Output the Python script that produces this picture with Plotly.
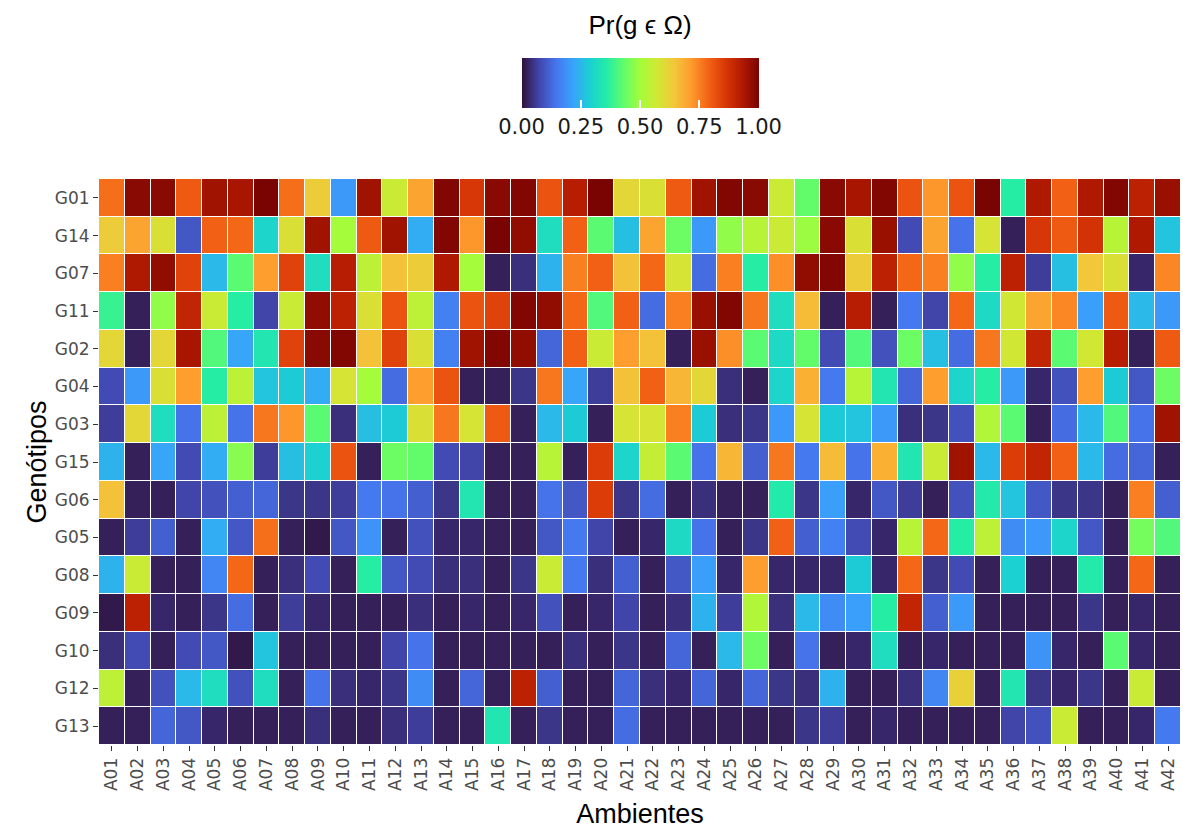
import plotly.graph_objects as go

genotypes = ["G01", "G14", "G07", "G11", "G02", "G04", "G03", "G15",
             "G06", "G05", "G08", "G09", "G10", "G12", "G13"]
environments = [f"A{i:02d}" for i in range(1, 43)]

g01 = [0.77, 0.98, 0.98, 0.80, 0.95, 0.94, 1.00, 0.77, 0.63, 0.20, 0.95,
       0.56, 0.70, 0.99, 0.86, 0.98, 0.99, 0.81, 0.92, 1.00, 0.61,
       0.59, 0.80, 0.95, 0.99, 0.98, 0.56, 0.43, 0.98, 0.94, 0.99, 0.81,
       0.72, 0.81, 1.00, 0.36, 0.93, 0.79, 0.93, 0.99, 0.91, 0.96]
g14 = [0.63, 0.70, 0.59, 0.10, 0.79, 0.78, 0.30, 0.59, 0.95, 0.50, 0.80,
       0.95, 0.23, 0.99, 0.72, 1.00, 0.97, 0.32, 0.79, 0.42, 0.26,
       0.70, 0.44, 0.20, 0.48, 0.53, 0.56, 0.49, 0.98, 0.59, 0.96, 0.08,
       0.70, 0.14, 0.58, 0.02, 0.86, 0.80, 0.87, 0.53, 0.93, 0.27]
g07 = [0.75, 0.93, 0.97, 0.84, 0.25, 0.42, 0.71, 0.84, 0.32, 0.92, 0.54,
       0.65, 0.63, 0.93, 0.50, 0.02, 0.04, 0.24, 0.75, 0.79, 0.65,
       0.78, 0.58, 0.13, 0.75, 0.36, 0.73, 0.97, 0.99, 0.63, 0.91, 0.78,
       0.75, 0.48, 0.36, 0.91, 0.06, 0.26, 0.64, 0.59, 0.03, 0.74]
g11 = [0.38, 0.02, 0.48, 0.90, 0.56, 0.36, 0.07, 0.56, 0.97, 0.91, 0.59,
       0.81, 0.54, 0.16, 0.81, 0.84, 0.99, 0.97, 0.78, 0.41, 0.79,
       0.13, 0.75, 0.96, 0.99, 0.76, 0.32, 0.66, 0.02, 0.92, 0.02, 0.15,
       0.07, 0.78, 0.31, 0.57, 0.70, 0.74, 0.21, 0.80, 0.25, 0.20]
g02 = [0.61, 0.02, 0.61, 0.94, 0.41, 0.22, 0.34, 0.84, 0.98, 0.99, 0.65,
       0.84, 0.59, 0.16, 0.95, 0.99, 0.97, 0.12, 0.79, 0.56, 0.71,
       0.65, 0.02, 0.96, 0.73, 0.42, 0.31, 0.43, 0.08, 0.41, 0.09, 0.44,
       0.26, 0.13, 0.76, 0.57, 0.90, 0.42, 0.57, 0.92, 0.02, 0.80]
g04 = [0.08, 0.20, 0.59, 0.71, 0.36, 0.54, 0.27, 0.28, 0.23, 0.58, 0.50,
       0.13, 0.71, 0.81, 0.02, 0.02, 0.05, 0.76, 0.22, 0.06, 0.65,
       0.79, 0.67, 0.61, 0.04, 0.02, 0.30, 0.68, 0.15, 0.53, 0.34, 0.12,
       0.71, 0.30, 0.36, 0.20, 0.03, 0.09, 0.71, 0.28, 0.10, 0.44]
g03 = [0.06, 0.61, 0.32, 0.14, 0.54, 0.14, 0.76, 0.72, 0.42, 0.04, 0.26,
       0.28, 0.59, 0.76, 0.58, 0.80, 0.02, 0.25, 0.28, 0.02, 0.58,
       0.58, 0.75, 0.28, 0.04, 0.05, 0.20, 0.58, 0.28, 0.27, 0.20, 0.04,
       0.05, 0.09, 0.52, 0.42, 0.02, 0.13, 0.25, 0.41, 0.14, 0.95]
g15 = [0.24, 0.02, 0.22, 0.08, 0.23, 0.47, 0.06, 0.26, 0.29, 0.81, 0.02,
       0.44, 0.43, 0.08, 0.07, 0.02, 0.02, 0.53, 0.02, 0.85, 0.30,
       0.55, 0.42, 0.14, 0.67, 0.11, 0.76, 0.15, 0.66, 0.14, 0.68, 0.34,
       0.56, 0.95, 0.25, 0.85, 0.90, 0.79, 0.25, 0.13, 0.12, 0.02]
g06 = [0.65, 0.02, 0.02, 0.07, 0.09, 0.11, 0.12, 0.05, 0.05, 0.06, 0.15,
       0.14, 0.11, 0.05, 0.34, 0.02, 0.02, 0.14, 0.10, 0.85, 0.05,
       0.13, 0.02, 0.04, 0.02, 0.02, 0.35, 0.05, 0.21, 0.03, 0.10, 0.06,
       0.02, 0.09, 0.35, 0.27, 0.10, 0.05, 0.05, 0.02, 0.75, 0.11]
g05 = [0.02, 0.06, 0.11, 0.02, 0.23, 0.10, 0.77, 0.02, 0.01, 0.10, 0.19,
       0.02, 0.09, 0.03, 0.03, 0.02, 0.02, 0.10, 0.15, 0.07, 0.02,
       0.03, 0.31, 0.14, 0.02, 0.05, 0.79, 0.11, 0.16, 0.08, 0.03, 0.53,
       0.78, 0.36, 0.54, 0.18, 0.20, 0.30, 0.10, 0.02, 0.45, 0.41]
g08 = [0.24, 0.56, 0.02, 0.02, 0.17, 0.78, 0.02, 0.04, 0.08, 0.02, 0.36,
       0.10, 0.08, 0.04, 0.04, 0.02, 0.05, 0.56, 0.15, 0.04, 0.11,
       0.02, 0.10, 0.21, 0.03, 0.71, 0.03, 0.03, 0.03, 0.28, 0.03, 0.78,
       0.05, 0.08, 0.02, 0.29, 0.02, 0.02, 0.35, 0.02, 0.78, 0.02]
g09 = [0.01, 0.91, 0.03, 0.02, 0.05, 0.13, 0.02, 0.06, 0.03, 0.02, 0.02,
       0.02, 0.04, 0.02, 0.03, 0.02, 0.03, 0.09, 0.02, 0.03, 0.07,
       0.02, 0.04, 0.24, 0.06, 0.52, 0.04, 0.25, 0.18, 0.21, 0.36, 0.90,
       0.11, 0.20, 0.02, 0.02, 0.02, 0.02, 0.05, 0.02, 0.03, 0.02]
g10 = [0.04, 0.08, 0.02, 0.08, 0.10, 0.01, 0.27, 0.02, 0.02, 0.02, 0.02,
       0.07, 0.14, 0.02, 0.02, 0.02, 0.02, 0.02, 0.04, 0.02, 0.05,
       0.02, 0.12, 0.02, 0.25, 0.44, 0.02, 0.14, 0.02, 0.03, 0.32, 0.02,
       0.03, 0.02, 0.02, 0.02, 0.19, 0.03, 0.02, 0.42, 0.03, 0.02]
g12 = [0.54, 0.02, 0.09, 0.25, 0.32, 0.09, 0.32, 0.02, 0.14, 0.04, 0.03,
       0.05, 0.18, 0.02, 0.12, 0.02, 0.91, 0.11, 0.02, 0.02, 0.12,
       0.04, 0.03, 0.12, 0.03, 0.12, 0.05, 0.04, 0.24, 0.02, 0.02, 0.04,
       0.17, 0.62, 0.02, 0.34, 0.05, 0.03, 0.05, 0.02, 0.56, 0.02]
g13 = [0.02, 0.02, 0.12, 0.10, 0.03, 0.02, 0.02, 0.02, 0.04, 0.02, 0.02,
       0.04, 0.06, 0.02, 0.02, 0.34, 0.02, 0.05, 0.02, 0.02, 0.13,
       0.02, 0.02, 0.02, 0.02, 0.02, 0.02, 0.05, 0.06, 0.02, 0.03, 0.02,
       0.02, 0.02, 0.02, 0.07, 0.09, 0.56, 0.02, 0.02, 0.03, 0.15]

z = [g01, g14, g07, g11, g02, g04, g03, g15, g06, g05, g08, g09, g10, g12, g13]

cb_ticks = [0, 0.25, 0.5, 0.75, 1.0]
cb_ticktext = ["0.00", "0.25", "0.50", "0.75", "1.00"]

fig = go.Figure(go.Heatmap(
    z=z, x=environments, y=genotypes,
    colorscale="Turbo", zmin=0, zmax=1,
    xgap=1, ygap=1,
    hovertemplate="%{y} / %{x}: %{z}<extra></extra>",
    colorbar=dict(
        orientation="h",
        x=0.5, xanchor="center",
        y=1.285, yanchor="top",
        lenmode="pixels", len=257,
        thickness=50,
        outlinewidth=0,
        title=dict(text="Pr(g ϵ Ω)", side="top",
                   font=dict(family="Liberation Sans", size=26, color="#000000")),
        tickvals=cb_ticks, ticktext=cb_ticktext,
        ticks="inside", ticklen=8, tickcolor="white", tickwidth=1.5,
        tickfont=dict(family="DejaVu Sans", size=21, color="#1a1a1a"),
    ),
))

fig.update_layout(
    width=1183, height=830,
    margin=dict(l=99, r=2, t=179, b=85),
    paper_bgcolor="white", plot_bgcolor="white",
    xaxis=dict(
        title=dict(text="Ambientes", font=dict(family="Liberation Sans", size=27, color="#000000"),
                   standoff=14),
        tickangle=-90,
        tickfont=dict(family="DejaVu Sans", size=17, color="#4d4d4d"),
        ticks="outside", ticklen=5, tickcolor="#333333",
        showgrid=False, zeroline=False,
    ),
    yaxis=dict(
        title=dict(text="Genótipos", font=dict(family="Liberation Sans", size=27, color="#000000"),
                   standoff=0),
        autorange="reversed",
        tickfont=dict(family="DejaVu Sans", size=17, color="#4d4d4d"),
        ticks="outside", ticklen=5, tickcolor="#333333",
        showgrid=False, zeroline=False,
    ),
)

fig.write_html("out.html")
